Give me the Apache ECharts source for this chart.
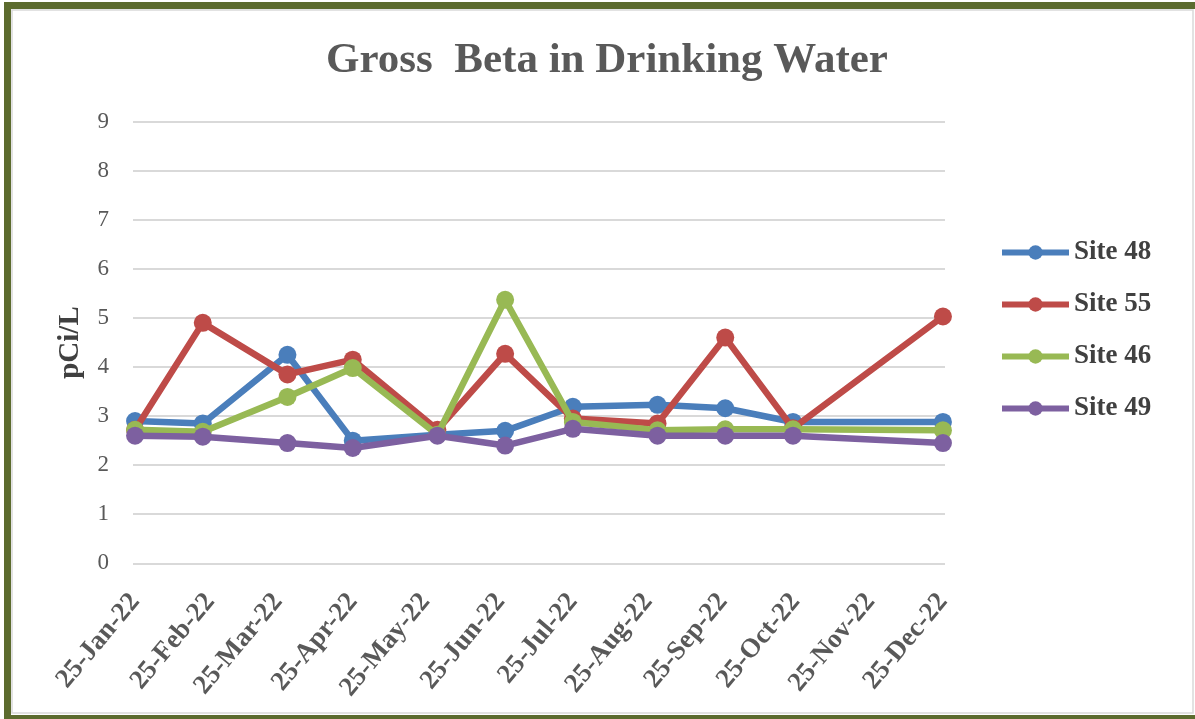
<!DOCTYPE html>
<html>
<head>
<meta charset="utf-8">
<title>Gross Beta in Drinking Water</title>
<script src="https://cdn.jsdelivr.net/npm/echarts@6/dist/echarts.min.js"></script>
<style>
  html, body { margin: 0; padding: 0; background: #ffffff; }
  #chart { position: absolute; left: 0; top: 0; width: 1195px; height: 719px; }
</style>
</head>
<body>
<div id="chart"></div>
<script>
// Sampling dates (2022) and gross beta results in pCi/L
const sampleDates = ['2022-01-25', '2022-02-22', '2022-03-29', '2022-04-25', '2022-05-30',
                     '2022-06-27', '2022-07-25', '2022-08-29', '2022-09-26', '2022-10-24', '2022-12-25'];
const site48 = [2.9, 2.85, 4.25, 2.5, 2.62, 2.7, 3.19, 3.23, 3.16, 2.88, 2.88];
const site55 = [2.72, 4.9, 3.85, 4.15, 2.72, 4.27, 2.95, 2.85, 4.6, 2.75, 5.03];
const site46 = [2.72, 2.68, 3.39, 3.98, 2.62, 5.37, 2.88, 2.71, 2.73, 2.73, 2.71];
const site49 = [2.6, 2.58, 2.45, 2.35, 2.6, 2.4, 2.74, 2.6, 2.6, 2.6, 2.45];

// Date-axis tick labels (25th of each month)
const tickDates = ['2022-01-25', '2022-02-25', '2022-03-25', '2022-04-25', '2022-05-25', '2022-06-25',
                   '2022-07-25', '2022-08-25', '2022-09-25', '2022-10-25', '2022-11-25', '2022-12-25'];
const tickLabels = ['25-Jan-22', '25-Feb-22', '25-Mar-22', '25-Apr-22', '25-May-22', '25-Jun-22',
                    '25-Jul-22', '25-Aug-22', '25-Sep-22', '25-Oct-22', '25-Nov-22', '25-Dec-22'];

const seriesNames = ['Site 48', 'Site 55', 'Site 46', 'Site 49'];
const seriesColors = ['#4A7EBB', '#BE4B48', '#98B954', '#7D60A0'];
const seriesValues = [site48, site55, site46, site49];

// Dates are placed on a linear day scale (days since 1 Jan 2022)
function toDay(s) {
  const p = s.split('-').map(Number);
  return Math.round((Date.UTC(p[0], p[1] - 1, p[2]) - Date.UTC(2022, 0, 1)) / 86400000);
}
const tickValues = tickDates.map(toDay);

function labelFor(v) {
  let best = 0;
  for (let i = 1; i < tickValues.length; i++) {
    if (Math.abs(tickValues[i] - v) < Math.abs(tickValues[best] - v)) best = i;
  }
  return tickLabels[best];
}

const serif = '"Liberation Serif", "DejaVu Serif", serif';

const chart = echarts.init(document.getElementById('chart'), null, { renderer: 'canvas' });

chart.setOption({
  backgroundColor: '#ffffff',
  animation: false,
  graphic: [
    {
      type: 'rect', z: 100, silent: true,
      shape: { x: 12, y: 10, width: 1181, height: 703 },
      style: { fill: 'none', stroke: '#d9d9d9', lineWidth: 1.5 }
    },
    {
      type: 'rect', z: 101, silent: true,
      shape: { x: 7.5, y: 5.5, width: 1220, height: 713 },
      style: { fill: 'none', stroke: '#5C6B2E', lineWidth: 7 }
    }
  ],
  title: {
    text: 'Gross  Beta in Drinking Water',
    left: 602,
    top: 34,
    textAlign: 'center',
    textStyle: { fontFamily: serif, fontWeight: 'bold', fontSize: 43, color: '#595959' }
  },
  legend: {
    orient: 'vertical',
    left: 999,
    top: 239,
    padding: 0,
    itemWidth: 67,
    itemHeight: 18,
    itemGap: 25,
    data: seriesNames,
    lineStyle: { width: 6 },
    textStyle: { fontFamily: serif, fontWeight: 'bold', fontSize: 27, lineHeight: 27, color: '#404040' }
  },
  grid: {
    left: 133,
    right: 250,
    top: 121.7,
    bottom: 155.7,
    containLabel: false,
    outerBoundsMode: 'none'
  },
  xAxis: {
    type: 'value',
    min: toDay('2022-01-25') - 0.85,
    max: toDay('2022-12-25') + 0.85,
    axisLine: { show: false },
    axisTick: { show: false, customValues: tickValues },
    splitLine: { show: false },
    axisLabel: {
      customValues: tickValues,
      rotate: 50,
      margin: 34,
      formatter: labelFor,
      fontFamily: serif,
      fontWeight: 'bold',
      fontSize: 27,
      color: '#595959',
      hideOverlap: false,
      showMinLabel: true,
      showMaxLabel: true
    }
  },
  yAxis: {
    type: 'value',
    min: 0,
    max: 9,
    interval: 1,
    name: 'pCi/L',
    nameLocation: 'middle',
    nameRotate: 90,
    nameGap: 48,
    nameTextStyle: { fontFamily: serif, fontWeight: 'bold', fontSize: 29, color: '#404040' },
    axisLine: { show: false },
    axisTick: { show: false },
    splitLine: { show: true, lineStyle: { color: '#d9d9d9', width: 2 } },
    axisLabel: { margin: 24, fontFamily: serif, fontSize: 23, color: '#595959' }
  },
  series: seriesNames.map((name, i) => ({
    name: name,
    type: 'line',
    z: 2 + i,
    data: sampleDates.map((d, j) => [toDay(d), seriesValues[i][j]]),
    symbol: 'circle',
    symbolSize: 18,
    lineStyle: { color: seriesColors[i], width: 6.5 },
    itemStyle: { color: seriesColors[i] },
    emphasis: { disabled: true }
  }))
});
</script>
</body>
</html>
